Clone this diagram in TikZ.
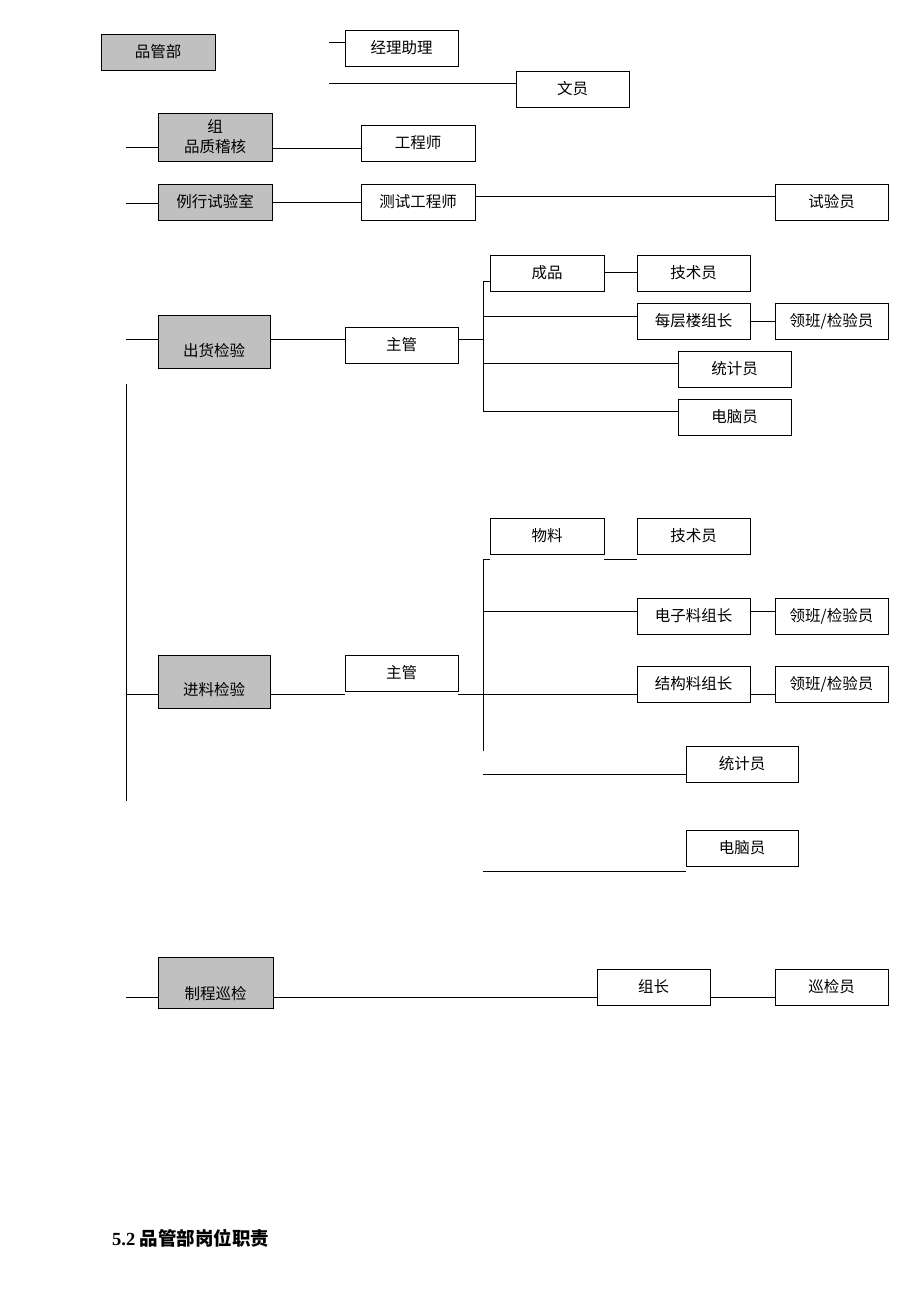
\documentclass[tikz,border=0pt]{standalone}
\usepackage{fontspec}
\setmainfont{Liberation Serif}
\newfontfamily\cjk{Noto Sans CJK SC}
\definecolor{boxgray}{RGB}{192,192,192}
\newcommand\lowtext[2]{\smash{\raisebox{#1}{#2}}}
\begin{document}
\begin{tikzpicture}[x=1pt,y=-1pt,
  box/.style={draw=black, line width=0.9pt, fill=white, minimum width=113pt, minimum height=36pt, inner sep=0pt,
    font=\cjk\fontsize{15.5}{18}\selectfont},
  gbox/.style={box, fill=boxgray},
  ln/.style={line width=1pt, black}]
\useasboundingbox (0,0) rectangle (920,1302);

% nodes
\node[gbox, minimum width=114pt] (pgb) at (158,52) {品管部};
\node[box] (jlzl) at (401.5,48) {经理助理};
\node[box] (wy) at (572.5,89) {文员};
\node[gbox, minimum width=114pt, minimum height=48pt, align=center] (pzjh) at (215,137) {\raisebox{2pt}{组}\\[0pt]品质稽核};
\node[box, minimum width=114pt] (gcs) at (418,143) {工程师};
\node[gbox, minimum width=114pt] (lxsys) at (215,202) {例行试验室};
\node[box, minimum width=114pt] (csgcs) at (418,202) {测试工程师};
\node[box] (syy) at (831.5,202) {试验员};

\node[gbox, minimum width=112pt, minimum height=53pt] (chjy) at (214,341.5) {\lowtext{-15pt}{出货检验}};
\node[box] (zg1) at (401.5,345) {主管};
\node[box, minimum width=114pt] (cp) at (547,273) {成品};
\node[box] (jsy1) at (693.5,273) {技术员};
\node[box] (mclzz) at (693.5,321) {每层楼组长};
\node[box] (lb1) at (831.5,321) {领班/检验员};
\node[box] (tjy1) at (734.5,369) {统计员};
\node[box] (dny1) at (734.5,417) {电脑员};

\node[box, minimum width=114pt] (wl) at (547,536) {物料};
\node[box] (jsy2) at (693.5,536) {技术员};
\node[box] (dzlzz) at (693.5,616) {电子料组长};
\node[box] (lb2) at (831.5,616) {领班/检验员};
\node[box] (jglzz) at (693.5,684) {结构料组长};
\node[box] (lb3) at (831.5,684) {领班/检验员};
\node[gbox, minimum width=112pt, minimum height=53pt] (ljjy) at (214,681.5) {\lowtext{-14pt}{进料检验}};
\node[box] (zg2) at (401.5,673) {主管};
\node[box, minimum width=112pt] (tjy2) at (742,764) {统计员};
\node[box, minimum width=112pt] (dny2) at (742,848) {电脑员};

\node[gbox, minimum width=115pt, minimum height=51pt] (zcxj) at (215.5,982.5) {\lowtext{-17pt}{制程巡检}};
\node[box] (zz) at (653.5,987) {组长};
\node[box] (xjy) at (831.5,987) {巡检员};

\node[anchor=west, inner sep=0pt, font=\bfseries\fontsize{18.5}{22}\selectfont] (title) at (112,1238) {5.2 {\cjk\bfseries 品管部岗位职责}};

% free-end coordinates
\coordinate (a1) at (329,42);
\coordinate (a2) at (329,83);
\coordinate (l1) at (126,147);
\coordinate (l2) at (126,203);
\coordinate (l3) at (126,339);
\coordinate (vtop) at (126,384);
\coordinate (vbot) at (126,801);
\coordinate (l4) at (126,694);
\coordinate (l5) at (126,997);
\coordinate (b1top) at (483,281);
\coordinate (b1bot) at (483,411);
\coordinate (b2top) at (483,559);
\coordinate (b2bot) at (483,751);
\coordinate (b2a) at (483,774);
\coordinate (b2b) at (483,871);

% connectors
\draw[ln] (a1) -- (jlzl.west |- a1);
\draw[ln] (a2) -- (wy.west |- a2);
\draw[ln] (l1) -- (pzjh.west |- l1);
\draw[ln] (pzjh.east |- 0,148) -- (gcs.west |- 0,148);
\draw[ln] (l2) -- (lxsys.west |- l2);
\draw[ln] (lxsys.east) -- (csgcs.west);
\draw[ln] (csgcs.east |- 0,196) -- (syy.west |- 0,196);

\draw[ln] (l3) -- (chjy.west |- l3);
\draw[ln] (chjy.east |- l3) -- (zg1.west |- l3);
\draw[ln] (zg1.east |- l3) -- (b1top |- l3);
\draw[ln] (cp.west |- b1top) -- (b1top) -- (b1bot) -- (dny1.west |- b1bot);
\draw[ln] (cp.east |- 0,272) -- (jsy1.west |- 0,272);
\draw[ln] (b1top |- 0,316) -- (mclzz.west |- 0,316);
\draw[ln] (mclzz.east) -- (lb1.west);
\draw[ln] (b1top |- 0,363) -- (tjy1.west |- 0,363);

\draw[ln] (vtop) -- (vbot);
\draw[ln] (l4) -- (ljjy.west |- l4);
\draw[ln] (ljjy.east |- l4) -- (zg2.west |- l4);
\draw[ln] (zg2.east |- l4) -- (jglzz.west |- l4);
\draw[ln] (wl.west |- b2top) -- (b2top) -- (b2bot);
\draw[ln] (wl.east |- b2top) -- (jsy2.west |- b2top);
\draw[ln] (b2top |- 0,611) -- (dzlzz.west |- 0,611);
\draw[ln] (dzlzz.east |- 0,611) -- (lb2.west |- 0,611);
\draw[ln] (jglzz.east |- l4) -- (lb3.west |- l4);
\draw[ln] (b2a) -- (tjy2.west |- b2a);
\draw[ln] (b2b) -- (dny2.west |- b2b);

\draw[ln] (l5) -- (zcxj.west |- l5);
\draw[ln] (zcxj.east |- l5) -- (zz.west |- l5);
\draw[ln] (zz.east |- l5) -- (xjy.west |- l5);
\end{tikzpicture}
\end{document}
